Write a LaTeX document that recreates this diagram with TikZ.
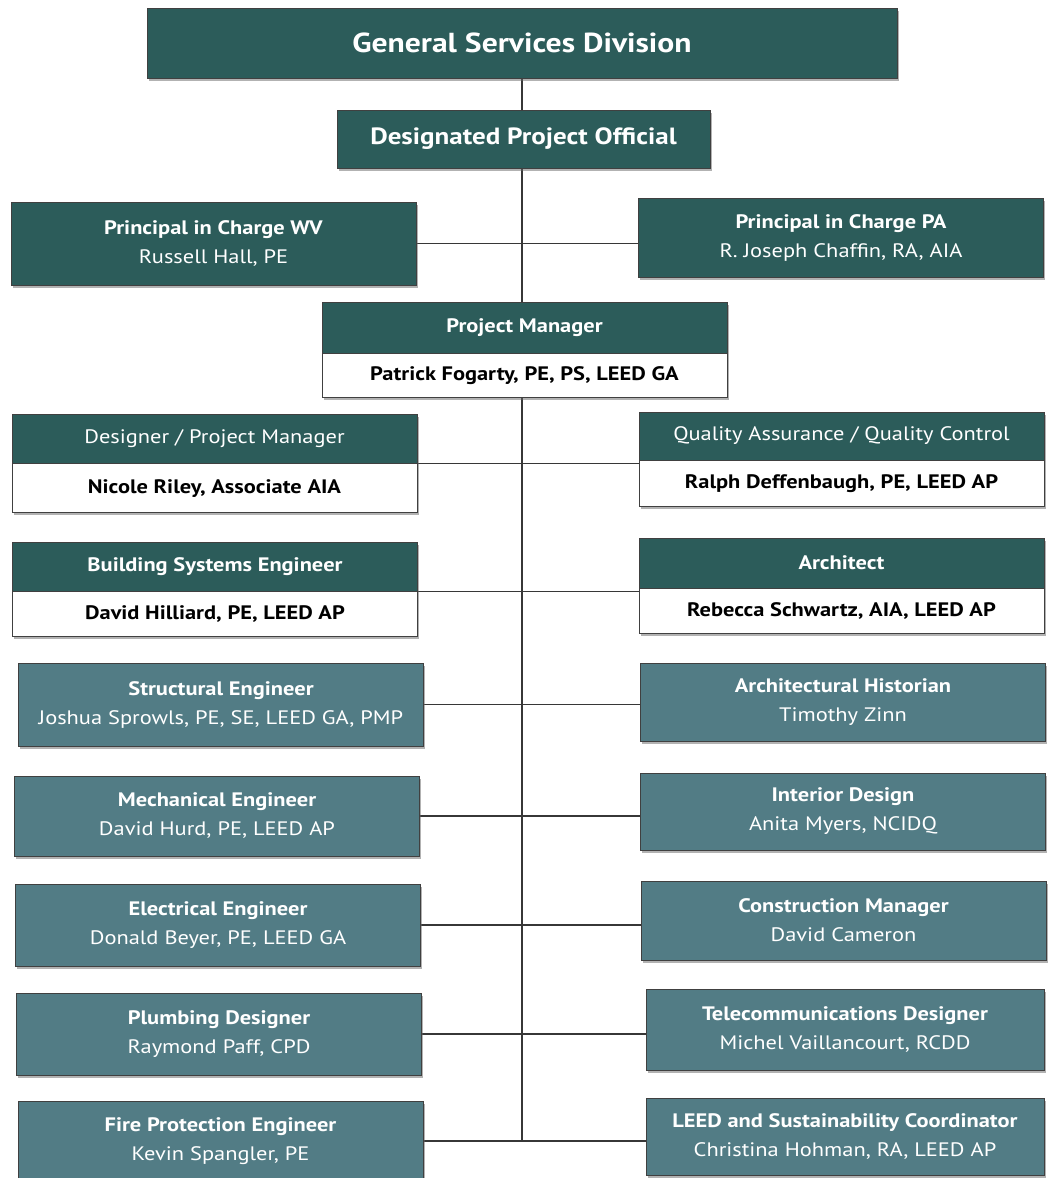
\documentclass[tikz,border=0pt]{standalone}
\usepackage{fontspec}
\setmainfont{PT Sans}[FakeStretch=1.15]
\usetikzlibrary{backgrounds,shadows}
\definecolor{darkteal}{RGB}{44,92,90}
\definecolor{slateteal}{RGB}{82,124,133}
\definecolor{linegray}{RGB}{55,55,55}
\begin{document}
\begin{tikzpicture}[x=1pt,y=-1pt,
    box/.style={draw=black!75, line width=0.8pt, text=white, align=center, inner sep=0pt,
        minimum width=405pt, font=\fontsize{19.5}{29}\selectfont,
        drop shadow={shadow xshift=1.5pt, shadow yshift=-2.5pt, fill=black!60}},
    dark/.style={box, fill=darkteal},
    slate/.style={box, fill=slateteal},
    namebox/.style={box, fill=white, text=black, font=\fontsize{19.5}{29}\selectfont\bfseries},
    link/.style={draw=linegray, line width=1.8pt}
]
\useasboundingbox (0,0) rectangle (1047,1178);

% top of the chart
\node[dark, minimum width=750pt, minimum height=70pt, font=\fontsize{27.5}{32}\selectfont\bfseries] (gsd) at (522,43) {General Services Division};
\node[dark, minimum width=373pt, minimum height=58pt, font=\fontsize{23.5}{28}\selectfont\bfseries] (dpo) at (523.5,139) {Designated Project Official};

\node[dark, minimum height=83pt] (wv) at (213.5,243.5) {\textbf{Principal in Charge WV}\\Russell Hall, PE};
\node[dark, minimum height=79pt] (pa) at (841,237.5) {\textbf{Principal in Charge PA}\\R. Joseph Chaffin, RA, AIA};

% project manager and the boxes with a white name bar
\node[dark, minimum height=51pt] (pm) at (524.5,327.5) {\textbf{Project Manager}};
\node[namebox, minimum height=44pt, anchor=north] (pmname) at (pm.south) {Patrick Fogarty, PE, PS, LEED GA};

\node[dark, minimum height=49pt] (dpm) at (214.5,438.5) {Designer / Project Manager};
\node[namebox, minimum height=49pt, anchor=north] (dpmname) at (dpm.south) {Nicole Riley, Associate AIA};
\node[dark, minimum height=48pt] (qa) at (841.5,436) {Quality Assurance / Quality Control};
\node[namebox, minimum height=46pt, anchor=north] (qaname) at (qa.south) {Ralph Deffenbaugh, PE, LEED AP};

\node[dark, minimum height=49pt] (bse) at (215,566.5) {\textbf{Building Systems Engineer}};
\node[namebox, minimum height=45pt, anchor=north] (bsename) at (bse.south) {David Hilliard, PE, LEED AP};
\node[dark, minimum height=50pt] (arch) at (841.5,563) {\textbf{Architect}};
\node[namebox, minimum height=45pt, anchor=north] (archname) at (arch.south) {Rebecca Schwartz, AIA, LEED AP};

% consultants
\node[slate, minimum height=83pt] (se) at (221,704.5) {\textbf{Structural Engineer}\\Joshua Sprowls, PE, SE, LEED GA, PMP};
\node[slate, minimum height=78pt] (ah) at (843,702) {\textbf{Architectural Historian}\\Timothy Zinn};
\node[slate, minimum height=80pt] (me) at (217,816) {\textbf{Mechanical Engineer}\\David Hurd, PE, LEED AP};
\node[slate, minimum height=77pt] (id) at (843,811.5) {\textbf{Interior Design}\\Anita Myers, NCIDQ};
\node[slate, minimum height=82pt] (ee) at (218,925) {\textbf{Electrical Engineer}\\Donald Beyer, PE, LEED GA};
\node[slate, minimum height=79pt] (cm) at (843.5,920.5) {\textbf{Construction Manager}\\David Cameron};
\node[slate, minimum height=82pt] (pd) at (219,1034) {\textbf{Plumbing Designer}\\Raymond Paff, CPD};
\node[slate, minimum height=81pt, minimum width=398pt] (td) at (845,1029.5) {\textbf{Telecommunications Designer}\\Michel Vaillancourt, RCDD};
\node[slate, minimum height=80pt] (fpe) at (220.5,1141) {\textbf{Fire Protection Engineer}\\Kevin Spangler, PE};
\node[slate, minimum height=77pt, minimum width=398pt] (leed) at (845,1136.5) {\textbf{LEED and Sustainability Coordinator}\\Christina Hohman, RA, LEED AP};

\coordinate (spineend) at (gsd.south |- fpe.east);

\begin{scope}[on background layer]
    \draw[link] (gsd.south) -- (spineend);
    \draw[link] (wv.east) -- (wv.east -| pa.west);
    \draw[link] (dpm.south east) -- (dpm.south east -| qa.west);
    \draw[link] (bse.south east) -- (bse.south east -| arch.west);
    \draw[link] (se.east) -- (se.east -| ah.west);
    \draw[link] (me.east) -- (me.east -| id.west);
    \draw[link] (ee.east) -- (ee.east -| cm.west);
    \draw[link] (pd.east) -- (pd.east -| td.west);
    \draw[link] (fpe.east) -- (leed.west |- fpe.east);
\end{scope}

\end{tikzpicture}
\end{document}
